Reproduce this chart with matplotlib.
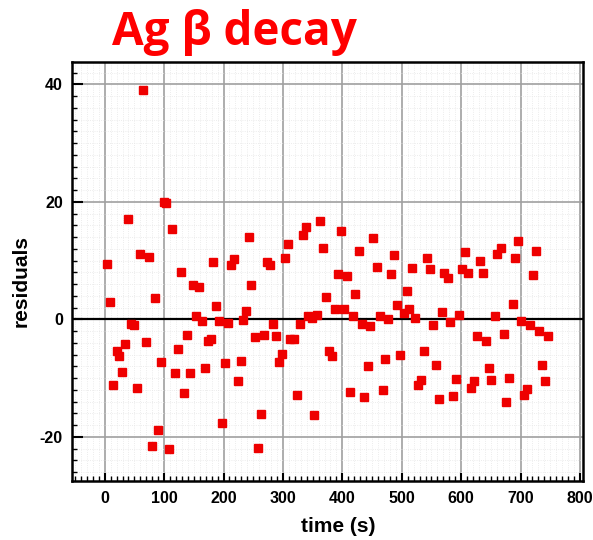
import matplotlib
matplotlib.use("Agg")
import matplotlib.pyplot as plt
from matplotlib.ticker import MultipleLocator

plt.rcParams['axes.unicode_minus'] = False

time_s = [4.5, 9.5, 14, 20, 24, 29, 34, 39, 44, 49, 54, 59, 64, 69, 74, 79, 84, 89, 94, 100,
          103, 109, 114, 119, 123, 129, 134, 138, 144, 148, 153, 159, 164, 168, 174, 179, 183, 188, 193, 198,
          203, 208, 213, 218, 224, 229, 233, 238, 243, 247, 253, 258, 263, 268, 273, 278, 283, 288, 293, 298,
          303, 308, 312, 319, 323, 328, 333, 338, 343, 349, 353, 358, 363, 367, 373, 378, 383, 388, 393, 398,
          403, 407, 413, 418, 422, 428, 433, 437, 443, 447, 452, 458, 463, 468, 472, 477, 482, 487, 492, 497,
          503, 508, 512, 518, 522, 527, 532, 537, 543, 547, 552, 557, 562, 567, 571, 577, 582, 587, 592, 597,
          602, 607, 612, 617, 622, 627, 632, 637, 641, 647, 651, 657, 661, 667, 672, 676, 681, 687, 691, 696,
          701, 706, 711, 716, 721, 726, 731, 736, 741, 746]
residuals = [9.4, 3.0, -11.1, -5.4, -6.3, -8.9, -4.2, 17.1, -0.7, -1.0, -11.7, 11.1, 39.1, -3.9, 10.6, -21.6, 3.6, -18.8, -7.2, 19.9,
             19.8, -22.1, 15.3, -9.2, -5.0, 8.1, -12.6, -2.6, -9.2, 5.8, 0.6, 5.5, -0.3, -8.2, -3.6, -3.4, 9.8, 2.2, -0.2, -17.6,
             -7.4, -0.6, 9.3, 10.3, -10.4, -7.0, -0.1, 1.4, 14.0, 5.8, -3.0, -21.8, -16.1, -2.7, 9.7, 9.3, -0.7, -2.8, -7.2, -5.9,
             10.4, 12.9, -3.3, -3.4, -12.9, -0.8, 14.3, 15.8, 0.6, 0.3, -16.3, 0.8, 16.8, 12.2, 3.8, -5.4, -6.2, 1.8, 7.8, 15.1,
             1.7, 7.3, -12.4, 0.6, 4.4, 11.7, -0.8, -13.2, -8.0, -1.2, 13.8, 8.9, 0.6, -12.0, -6.8, 0.0, 7.8, 11.0, 2.4, -6.1,
             1.1, 4.9, 1.7, 8.8, 0.3, -11.2, -10.3, -5.4, 10.4, 8.5, -1.0, -7.7, -13.6, 1.2, 7.9, 7.1, -0.5, -13.1, -10.1, 0.7,
             8.5, 11.5, 7.9, -11.6, -10.5, -2.9, 9.9, 7.9, -3.7, -8.3, -10.3, 0.5, 11.1, 12.2, -2.5, -14.1, -10.0, 2.7, 10.5, 13.4,
             -0.2, -12.8, -11.8, -1.0, 7.6, 11.7, -2.0, -7.7, -10.5, -2.9]

x_ticks = [0, 100, 200, 300, 400, 500, 600, 700, 800]
y_ticks = [-20, 0, 20, 40]

fig = plt.figure(figsize=(5.93, 5.40), dpi=100)
ax = fig.add_axes([72/593, 1-481/540, (583-72)/593, (481-62)/540])
ax.set_axisbelow(True)

ax.set_xlim(-55, 805)
ax.set_ylim(-27.5, 43.8)

ax.xaxis.set_minor_locator(MultipleLocator(10))
ax.yaxis.set_minor_locator(MultipleLocator(2))
ax.set_xticks(x_ticks)
ax.set_yticks(y_ticks)

ax.grid(which='major', color='#a0a0a0', linewidth=1.2)
ax.grid(which='minor', color='#e6e6e6', linewidth=0.6, linestyle=':')
ax.axhline(0, color='black', linewidth=1.6, zorder=2)

ax.plot(time_s, residuals, linestyle='none', marker='s', markersize=6.3,
        color='#ee0000', markeredgecolor='#ee0000', zorder=3)

for s in ax.spines.values():
    s.set_linewidth(1.8)
    s.set_color('black')
    s.set_zorder(4)

ax.tick_params(axis='y', which='major', direction='in', length=8, width=1.5,
               right=False, labelsize=11.5, pad=6.5)
ax.tick_params(axis='x', which='major', direction='in', length=6, width=1.5,
               top=False, labelsize=11.5, pad=7)
ax.tick_params(which='minor', direction='in', length=3.5, width=1.0,
               top=False, right=False)
for lab in ax.get_xticklabels() + ax.get_yticklabels():
    lab.set_fontweight('bold')
    lab.set_fontfamily('Liberation Sans')

ax.set_xlabel('time (s)', fontsize=15, fontweight='bold', family='Liberation Sans', va='center')
ax.set_ylabel('residuals', fontsize=15, fontweight='bold', family='Liberation Sans', va='center')
ax.yaxis.set_label_coords(-(72-21)/511, (481-281)/419)
ax.xaxis.set_label_coords((338-72)/511, -(527-481)/419)

fig.text(234/593, 1-33/540, 'Ag β decay', color='#ff0000', fontsize=33,
         fontweight='bold', family='Open Sans', ha='center', va='center')

fig.savefig('out.png', dpi=100)
